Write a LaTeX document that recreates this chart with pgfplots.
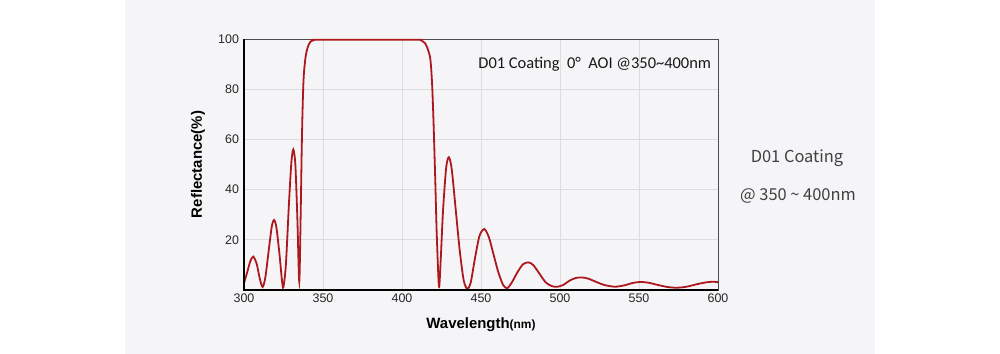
\documentclass[border=0pt]{standalone}
\usepackage{pgfplots}
\pgfplotsset{compat=1.18}
\usepackage{fontspec}
\setmainfont{Liberation Sans}
\newfontfamily\calfont{Carlito}
\newfontfamily\cjkfont{Noto Sans CJK SC}
\definecolor{panel}{HTML}{F5F5F7}
\definecolor{curve}{RGB}{172,24,30}
\definecolor{gridc}{HTML}{DCDCDC}
\begin{document}
\begin{tikzpicture}
\useasboundingbox (0bp,0bp) rectangle (1000bp,354bp);
\fill[white] (0bp,0bp) rectangle (1000bp,354bp);
\fill[panel] (125bp,0bp) rectangle (875bp,354bp);
\begin{axis}[
  at={(244bp,64bp)}, anchor=south west,
  width=474bp, height=251bp, scale only axis,
  xmin=300, xmax=600, ymin=0, ymax=100,
  xtick={300,350,...,600}, ytick={20,40,60,80,100},
  /pgf/number format/assume math mode=true,
  major tick length=0pt,
  grid=major, grid style={gridc, line width=0.8bp},
  axis line style={draw=black!70, line width=0.8bp},
  clip=false,
  ticklabel style={font=\fontsize{12.5}{13}\selectfont, text=black!85},
  yticklabel style={xshift=-1.5bp},
  every axis x label/.style={at={(axis description cs:0.5,-0.14)}, anchor=center},
  every axis y label/.style={at={(axis description cs:-0.097,0.5)}, rotate=90, anchor=center},
  xlabel={\fontsize{15}{15}\selectfont\bfseries Wavelength\fontsize{12}{12}\selectfont(nm)},
  ylabel={\fontsize{15}{15}\selectfont\bfseries Reflectance(\%)},
]
\addplot[curve, line width=1.8bp, smooth, tension=0.45] coordinates {
(300,2.7) (302,7) (304,11.5) (305.9,13.3) (308,10.5) (310,4.5) (311.8,1.2)
(313.5,5) (315.5,15) (317.5,25) (319,27.9) (320.5,25) (322.5,14) (324,4) (324.9,1)
(326.5,10) (328.5,35) (330,51) (331.2,56) (332.5,50) (333.8,28) (335,3.3)
(336,35) (336.5,55) (337,70) (337.5,81) (338,87) (339,93) (340,96) (341,97.8)
(342,98.9) (344,99.5) (346,99.7) (380,99.7) (410,99.7) (412,99.5) (414.6,98.3)
(416,96.5) (417.7,93) (418.5,88) (419.2,80) (420,66) (421,45) (422,22) (423.4,1.3)
(424.5,12) (426,32) (428,49) (429.7,52.9) (431.5,48) (434,32) (436.5,16) (439,4)
(441.3,0.4) (443.5,3) (446,12) (449,21.5) (452.1,24.3) (455,21) (458,14) (461,7)
(464,2) (466.6,0.7) (469.5,3) (473,7) (476.5,10.2) (479.9,11) (483,10) (487,6.5)
(491,3) (495,1.5) (498.3,1.3) (502,2) (506,3.7) (510,4.8) (514.1,5) (518,4.5)
(523,3.2) (528,2) (534.8,1.3) (541,1.9) (546,2.8) (550.6,3.2) (556,2.9) (562,2)
(568,1.2) (573.9,0.9) (580,1.3) (586,2.2) (592,3) (597,3.3) (600,3.1)
};
\draw[black, line width=1.6bp] (rel axis cs:0,1) -- (rel axis cs:0,0) -- (rel axis cs:1,0);
\node[font=\calfont\fontsize{16.5}{17}\selectfont, text=black!90] at (rel axis cs:0.74,0.9)
  {D01 Coating\ \ 0°\ \ AOI @350\textasciitilde400nm};
\end{axis}
\node[font=\cjkfont\fontsize{16.5}{17}\selectfont, text=black!75] at (797bp,196bp) {D01 Coating};
\node[font=\cjkfont\fontsize{16.5}{17}\selectfont, text=black!75] at (798bp,158bp) {@ 350 \textasciitilde{} 400nm};
\end{tikzpicture}
\end{document}
